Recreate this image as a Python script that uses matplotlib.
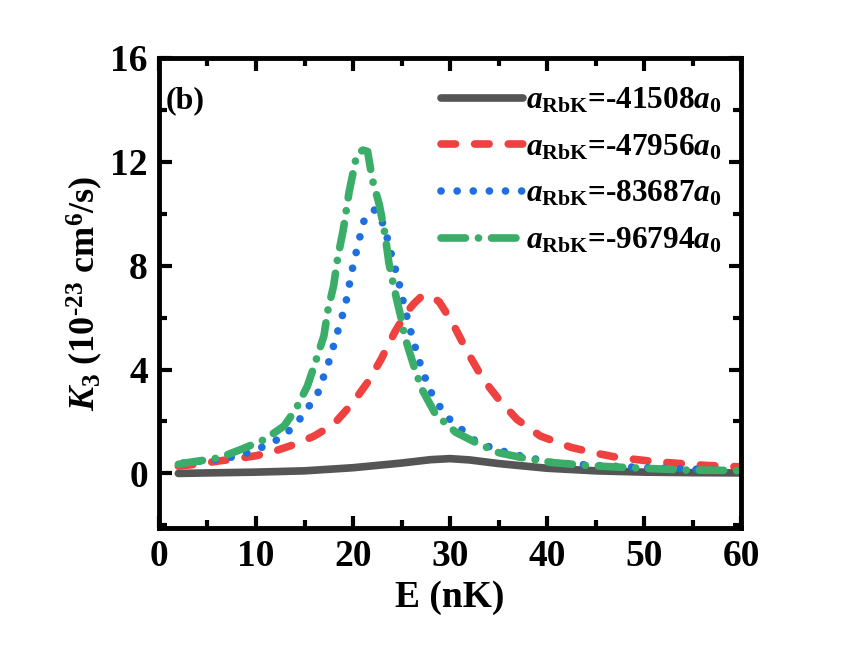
import matplotlib
matplotlib.use("Agg")
import matplotlib.pyplot as plt
from matplotlib.ticker import MultipleLocator

plt.rcParams['font.family'] = 'Liberation Serif'
plt.rcParams['font.weight'] = 'bold'
plt.rcParams['mathtext.fontset'] = 'custom'
plt.rcParams['mathtext.rm'] = 'Liberation Serif:bold'
plt.rcParams['mathtext.it'] = 'Liberation Serif:italic:bold'
plt.rcParams['mathtext.bf'] = 'Liberation Serif:bold'

# values
x_gray = [2, 5, 10, 15, 20, 25, 28, 30, 32, 35, 40, 45, 50, 55, 60]
y_gray = [0.0, 0.02, 0.05, 0.1, 0.22, 0.4, 0.53, 0.57, 0.52, 0.38, 0.2, 0.1, 0.05, 0.03, 0.02]

x_red = [2, 4, 6, 8, 10, 12, 14, 16, 18, 20, 21.6, 22.9, 24.3, 25.5, 26.3, 27, 28, 28.9,
         30.2, 31.8, 33.4, 35, 36.9, 39.3, 42.5, 45, 47.2, 50, 52.3, 56.3, 60]
y_red = [0.28, 0.36, 0.47, 0.57, 0.68, 0.87, 1.12, 1.44, 1.89, 2.73, 3.56, 4.4, 5.44, 6.2, 6.55,
         6.8, 6.85, 6.6, 5.83, 4.67, 3.63, 2.86, 2.08, 1.44, 1.0, 0.78, 0.62, 0.5, 0.42, 0.31, 0.25]

x_blue = [2.5, 5, 7, 9, 10.9, 12.9, 14.8, 16.4, 17.6, 18.4, 19.2, 20, 20.7, 21.1, 21.8, 22.3,
          22.6, 23.3, 23.9, 24.7, 25.3, 26, 26.6, 27.2, 28, 28.9, 29.6, 31.4, 32.6, 34.2,
          36.6, 40.5, 44.8, 49.6, 56.3, 58]
y_blue = [0.4, 0.5, 0.58, 0.78, 1.05, 1.44, 2.21, 3.12, 4.4, 5.44, 6.46, 8.0, 9.1, 9.7, 10.1,
          10.15, 10.07, 9.4, 8.5, 7.4, 6.4, 5.4, 4.6, 3.9, 3.15, 2.6, 2.2, 1.63, 1.25, 1.0,
          0.73, 0.42, 0.31, 0.23, 0.15, 0.13]

x_green = [2, 3, 4.5, 6.2, 8.5, 10.9, 12.9, 14.1, 15.3, 16, 17, 17.4, 18, 18.4, 19, 19.6,
           20.4, 21, 21.5, 22, 22.7, 23.3, 23.7, 24.1, 24.5, 24.9, 25.3, 26.3, 27.1, 28.5,
           30.6, 32.6, 35, 37.5, 40.5, 44, 48, 54.3, 58.2, 60]
y_green = [0.35, 0.42, 0.5, 0.6, 0.93, 1.31, 1.83, 2.47, 3.37, 4.14, 5.3, 6.27, 7.23, 8.26,
           9.4, 10.85, 12.3, 12.45, 12.4, 11.3, 10.36, 9.2, 8.1, 7.37, 6.7, 6.07, 5.3, 4.1,
           3.24, 2.28, 1.58, 1.2, 0.8, 0.6, 0.42, 0.31, 0.23, 0.13, 0.12, 0.1]

labels = [r'$a_{\mathrm{RbK}}$=-41508$a_0$', r'$a_{\mathrm{RbK}}$=-47956$a_0$',
          r'$a_{\mathrm{RbK}}$=-83687$a_0$', r'$a_{\mathrm{RbK}}$=-96794$a_0$']

fig = plt.figure(figsize=(8.5, 6.51), dpi=100)
ax = fig.add_axes([0.187, 0.189, 0.685, 0.722])

lw = 5.5
ax.plot(x_gray, y_gray, color='#555555', lw=lw, solid_capstyle='round', label=labels[0])
ax.plot(x_red, y_red, color='#f04141', lw=lw, dashes=(1.9, 2.5), dash_capstyle='round',
        label=labels[1])
ax.plot(x_blue, y_blue, color='#1f6fe0', lw=lw, dashes=(0.01, 2.1), dash_capstyle='round',
        label=labels[2])
ax.plot(x_green, y_green, color='#3aae68', lw=lw, dashes=(3.2, 1.7, 0.01, 1.7),
        dash_capstyle='round', label=labels[3])

ax.set_xlim(0, 60)
ax.set_ylim(-2.1, 16)
ax.xaxis.set_major_locator(MultipleLocator(10))
ax.xaxis.set_minor_locator(MultipleLocator(5))
ax.yaxis.set_major_locator(MultipleLocator(4))
ax.yaxis.set_minor_locator(MultipleLocator(2))
ax.tick_params(which='both', direction='in', top=True, right=True, width=3, labelsize=27, pad=8)
ax.tick_params(which='major', length=9)
ax.tick_params(which='minor', length=6)
for s in ax.spines.values():
    s.set_linewidth(3.5)

ax.set_xlabel('E (nK)', fontsize=27, fontweight='bold', labelpad=4)
ax.set_ylabel(r'$K_3$ (10$^{\text{-23}}$ cm$^6$/s)', fontsize=26, fontweight='bold', labelpad=4)

ax.text(0.012, 0.94, '(b)', transform=ax.transAxes, fontsize=23, fontweight='bold',
        va='top', ha='left')

ax.legend(loc='upper right', bbox_to_anchor=(1.014, 1.0), frameon=False, fontsize=22.5,
          handlelength=2.6, borderaxespad=0.5, labelspacing=0.55, handletextpad=0.1)

fig.savefig('out.png', dpi=100)
